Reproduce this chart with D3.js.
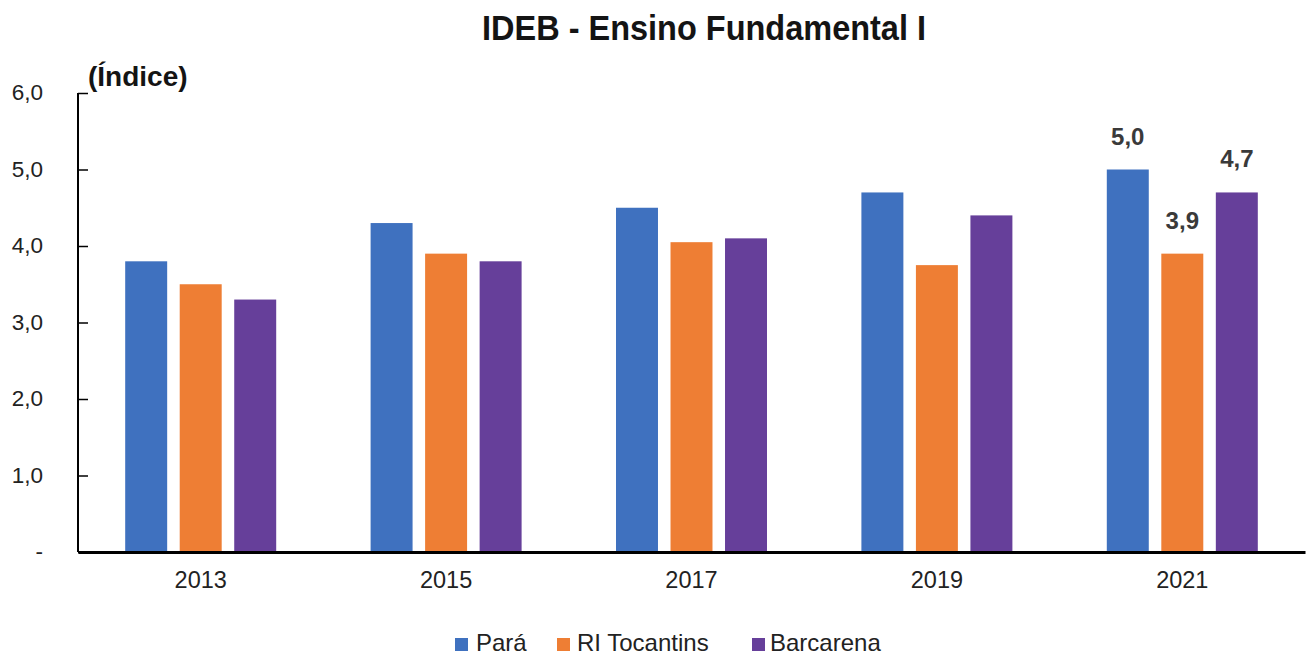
<!DOCTYPE html>
<html><head><meta charset="utf-8">
<script src="https://cdn.jsdelivr.net/npm/d3@7"></script>
<style>body{margin:0;background:#fff}svg{display:block;font-family:"Liberation Sans",Arial,sans-serif}</style>
</head><body><svg id="c" width="1309" height="657"></svg>
<script>
const years = ["2013","2015","2017","2019","2021"];
const seriesNames = ["Pará","RI Tocantins","Barcarena"];
const para = [3.8,4.3,4.5,4.7,5.0];
const riTocantins = [3.5,3.9,4.05,3.75,3.9];
const barcarena = [3.3,3.8,4.1,4.4,4.7];
const yTicks = [0,1,2,3,4,5,6];
const colors = ["#3F71BF","#EE7E34","#663F9A"];
const labelledYear = "2021";

const svg = d3.select("#c");
const x = d3.scaleBand().domain(years).range([78,1305]);
const xs = d3.scaleBand().domain(seriesNames).range([0,151]).paddingInner(0.23);
const y = d3.scaleLinear().domain([0,6]).range([552,93]);
const vals = [para,riTocantins,barcarena];

svg.append("text").attr("transform","translate(704,40) scale(1,1.08)").attr("text-anchor","middle")
  .attr("font-size",32.5).attr("font-weight","bold").attr("fill","#141414").text("IDEB - Ensino Fundamental I");
svg.append("text").attr("x",88).attr("y",86)
  .attr("font-size",28).attr("font-weight","bold").attr("fill","#141414").text("(Índice)");

const g = svg.append("g");
years.forEach((yr,i)=>{
  const x0 = x(yr)+x.bandwidth()/2-75.5;
  seriesNames.forEach((s,j)=>{
    const v = vals[j][i];
    g.append("rect").attr("x",x0+xs(s)).attr("y",y(v)).attr("width",xs.bandwidth()).attr("height",y(0)-y(v)).attr("fill",colors[j]);
    if(yr===labelledYear){
      g.append("text").attr("x",x0+xs(s)+xs.bandwidth()/2).attr("y",y(v)-25).attr("text-anchor","middle")
        .attr("font-size",24).attr("font-weight","bold").attr("fill","#3a3a3a").text(d3.format(".1f")(v).replace(".",","));
    }
  });
});

// y axis
const ya = svg.append("g").attr("transform","translate(78,0)")
  .call(d3.axisRight(y).tickValues(yTicks).tickSize(10).tickFormat(""));
ya.select(".domain").attr("stroke","#000").attr("stroke-width",2).attr("d","M0,93V552");
ya.selectAll(".tick line").attr("stroke","#000").attr("stroke-width",1.5);
yTicks.forEach(t=>{
  svg.append("text").attr("x",43).attr("y",y(t)+7).attr("text-anchor","end").attr("font-size",22.5).attr("fill","#222")
    .text(t===0?"-":d3.format(".1f")(t).replace(".",","));
});

// x axis
const xa = svg.append("g").attr("transform","translate(0,552)").call(d3.axisBottom(x).tickSize(0).tickPadding(19));
xa.select(".domain").attr("stroke","#000").attr("stroke-width",3);
xa.selectAll(".tick text").attr("font-size",23.5).attr("fill","#222").attr("font-family","Liberation Sans, Arial, sans-serif");

// legend
const legSq = [455,557,752];
const legTx = [476,577,770];
seriesNames.forEach((s,j)=>{
  svg.append("rect").attr("x",legSq[j]).attr("y",638).attr("width",13).attr("height",13).attr("fill",colors[j]);
  svg.append("text").attr("x",legTx[j]).attr("y",651).attr("font-size",24).attr("fill","#222").text(s);
});
</script></body></html>
